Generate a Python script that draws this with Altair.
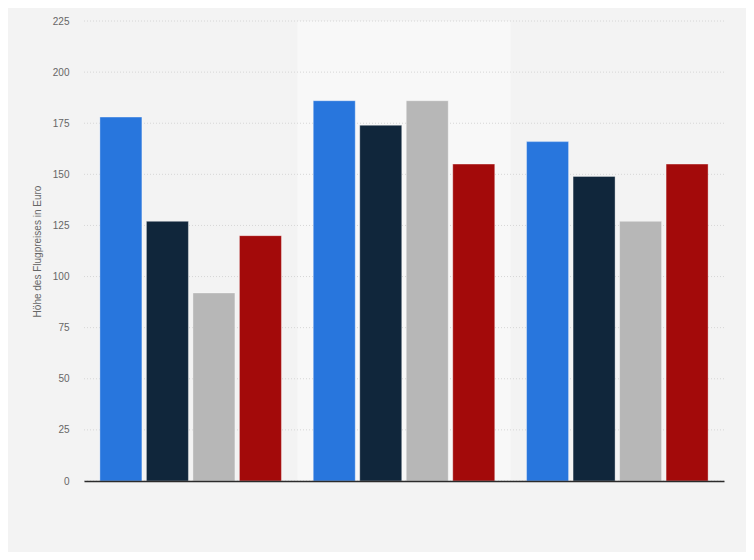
import altair as alt
import pandas as pd

groups = ["Gruppe 1", "Gruppe 2", "Gruppe 3"]
series = ["Serie A", "Serie B", "Serie C", "Serie D"]
colors = ["#2876dd", "#10263b", "#b7b7b7", "#a30a0a"]
values_a = [178, 186, 166]
values_b = [127, 174, 149]
values_c = [92, 186, 127]
values_d = [120, 155, 155]
y_ticks = [0, 25, 50, 75, 100, 125, 150, 175, 200, 225]
highlight_group = ["Gruppe 2"]

rows = []
for s, vals in zip(series, [values_a, values_b, values_c, values_d]):
    for g, v in zip(groups, vals):
        rows.append({"group": g, "series": s, "value": v})
df = pd.DataFrame(rows)
grid_df = pd.DataFrame({"tick": y_ticks})
band_df = pd.DataFrame({"group": highlight_group})

x_enc = alt.X(
    "group:N",
    sort=groups,
    scale=alt.Scale(domain=groups, paddingInner=0, paddingOuter=0),
    axis=alt.Axis(labels=False, ticks=False, title=None, domain=True,
                  domainColor="#2b2b2b", domainWidth=1.3),
)

y_axis = alt.Axis(values=y_ticks, title="Höhe des Flugpreises in Euro",
                  grid=False, domain=False, ticks=False,
                  labelPadding=15, titlePadding=10,
                  labelColor="#666666", titleColor="#666666",
                  labelFontSize=10, titleFontSize=10,
                  labelFont="Liberation Sans", titleFont="Liberation Sans",
                  titleFontWeight="normal")
y_scale = alt.Scale(domain=[0, 225], nice=False)

band = alt.Chart(band_df).mark_rect(color="#f8f8f8").encode(
    x=x_enc,
    y=alt.value(0),
    y2=alt.value(460),
)

grid = alt.Chart(grid_df).mark_rule(color="#d6d6d6", strokeDash=[1, 2], strokeWidth=1).encode(
    y=alt.Y("tick:Q", scale=y_scale, axis=y_axis),
)

bars = alt.Chart(df).mark_bar(stroke="white", strokeOpacity=0.35, strokeWidth=1).encode(
    x=x_enc,
    xOffset=alt.XOffset("series:N", sort=series,
                        scale=alt.Scale(domain=series, paddingInner=0.097, paddingOuter=0.342)),
    y=alt.Y("value:Q", scale=y_scale, axis=y_axis),
    color=alt.Color("series:N", sort=series,
                    scale=alt.Scale(domain=series, range=colors), legend=None),
)

chart = alt.layer(band, grid, bars).properties(
    width=640,
    height=460,
    autosize=alt.AutoSizeParams(type="none"),
    padding={"left": 76, "top": 13, "right": 22, "bottom": 71},
    background="#f3f3f3",
).configure_view(stroke=None)

chart.save("out.html", embed_options={"renderer": "svg", "actions": False})
